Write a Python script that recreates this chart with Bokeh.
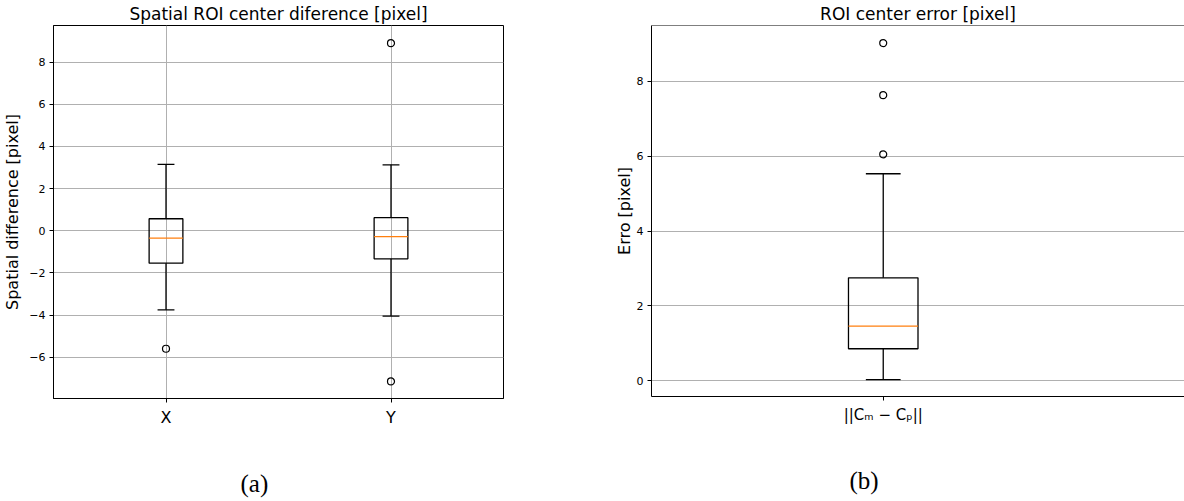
from bokeh.plotting import figure
from bokeh.layouts import row
from bokeh.models import Range1d, FixedTicker, Span, Title
from bokeh.embed import file_html
from bokeh.resources import INLINE

# ---------------- data (a) ----------------
categories = ["X", "Y"]
positions = [1, 2]
q1 = [-1.54, -1.33]
median = [-0.35, -0.28]
q3 = [0.57, 0.62]
whisk_lo = [-3.75, -4.05]
whisk_hi = [3.15, 3.13]
outlier_pos = [1, 2, 2]
outlier_val = [-5.6, 8.9, -7.15]
yticks_a = [-6, -4, -2, 0, 2, 4, 6, 8]

# ---------------- data (b) ----------------
err_category = ["||Cₘ − Cₚ||"]
err_positions = [1]
err_q1 = [0.855]
err_median = [1.46]
err_q3 = [2.75]
err_lo = [0.03]
err_hi = [5.53]
err_out_pos = [1, 1, 1]
err_out_val = [6.05, 7.63, 9.02]
yticks_b = [0, 2, 4, 6, 8]

BOX_W = 0.15
CAP_W = 0.075
FONT = "DejaVu Sans"


def fmt(v):
    return str(v).replace("-", "\u2212")


def style(p, yticks, label_standoff):
    p.title.text_font = FONT
    p.title.text_font_style = "normal"
    p.title.text_font_size = "17px"
    p.title.align = "center"
    p.title.text_color = "black"
    p.title.standoff = 3
    for ax in (p.xaxis[0], p.yaxis[0]):
        ax.axis_line_color = "black"
        ax.axis_line_width = 1
        ax.major_tick_line_color = "black"
        ax.major_tick_out = 4
        ax.major_tick_in = 0
        ax.minor_tick_line_color = None
        ax.major_label_text_font = FONT
        ax.major_label_text_color = "black"
        ax.axis_label_text_font = FONT
        ax.axis_label_text_font_style = "normal"
        ax.axis_label_text_color = "black"
        ax.axis_label_text_font_size = "16px"
    p.yaxis[0].axis_label_standoff = label_standoff
    p.yaxis[0].major_label_standoff = 4
    p.yaxis[0].major_label_text_font_size = "11px"
    p.yaxis[0].ticker = FixedTicker(ticks=yticks)
    p.yaxis[0].major_label_overrides = {t: fmt(t) for t in yticks}
    p.ygrid.grid_line_color = "#b0b0b0"
    p.ygrid.grid_line_width = 1
    p.background_fill_color = "white"
    p.border_fill_color = "white"


def draw_boxes(p, pos, lo, a, med, b, hi, opos, oval):
    left = [x - BOX_W / 2 for x in pos]
    right = [x + BOX_W / 2 for x in pos]
    cl = [x - CAP_W / 2 for x in pos]
    cr = [x + CAP_W / 2 for x in pos]
    p.segment(x0=pos, y0=b, x1=pos, y1=hi, line_color="black", line_width=1.3)
    p.segment(x0=pos, y0=a, x1=pos, y1=lo, line_color="black", line_width=1.3)
    p.segment(x0=cl, y0=hi, x1=cr, y1=hi, line_color="black", line_width=1.3)
    p.segment(x0=cl, y0=lo, x1=cr, y1=lo, line_color="black", line_width=1.3)
    p.quad(left=left, right=right, bottom=a, top=b, fill_color=None,
           line_color="black", line_width=1.3)
    p.segment(x0=left, y0=med, x1=right, y1=med, line_color="#ff7f0e", line_width=1.3)
    p.scatter(x=opos, y=oval, size=7, marker="circle", fill_color=None,
              line_color="black", line_width=1.2)


def caption(p, text, offset):
    t = Title(text=text, align="left", offset=offset, standoff=76,
              text_font="Liberation Serif", text_font_size="25px",
              text_font_style="normal", text_color="black")
    p.add_layout(t, "below")


# ---------------- figure (a) ----------------
pa = figure(frame_width=450, frame_height=373, min_border_left=53, min_border_right=87,
            min_border_top=25, min_border_bottom=103,
            x_range=Range1d(0.5, 2.5), y_range=Range1d(-7.96, 9.74),
            title="Spatial ROI center diference [pixel]",
            output_backend="svg", toolbar_location=None)
style(pa, yticks_a, 4)
pa.outline_line_color = "black"
pa.outline_line_width = 1
pa.xaxis[0].ticker = FixedTicker(ticks=positions)
pa.xaxis[0].major_label_overrides = {p_: c for p_, c in zip(positions, categories)}
pa.xaxis[0].major_label_text_font_size = "16px"
pa.yaxis[0].axis_label = "Spatial difference [pixel]"
pa.xgrid.grid_line_color = "#b0b0b0"
pa.xgrid.grid_line_width = 1
pa.xgrid.ticker = FixedTicker(ticks=positions)
draw_boxes(pa, positions, whisk_lo, q1, median, q3, whisk_hi, outlier_pos, outlier_val)
caption(pa, "(a)", 187)

# ---------------- figure (b) ----------------
pb = figure(frame_width=533, frame_height=371, min_border_left=61, min_border_right=0,
            min_border_top=25, min_border_bottom=105,
            x_range=Range1d(0.5, 1.65), y_range=Range1d(-0.42, 9.49),
            title="ROI center error [pixel]",
            output_backend="svg", toolbar_location=None)
style(pb, yticks_b, 0)
pb.outline_line_color = None
pb.xaxis[0].ticker = FixedTicker(ticks=err_positions)
pb.xaxis[0].major_label_overrides = {p_: c for p_, c in zip(err_positions, err_category)}
pb.xaxis[0].major_label_text_font_size = "15px"
pb.yaxis[0].axis_label = "Erro [pixel]"
pb.xgrid.grid_line_color = None
pb.add_layout(Span(location=9.49, dimension="width", line_color="black", line_width=1))
draw_boxes(pb, err_positions, err_lo, err_q1, err_median, err_q3, err_hi, err_out_pos, err_out_val)
caption(pb, "(b)", 198)

layout = row(pa, pb, spacing=0)
html = file_html(layout, INLINE)
html = html.replace("<head>", "<head><style>html,body{margin:0;overflow:hidden;}</style>", 1)
open("out.html", "w").write(html)
